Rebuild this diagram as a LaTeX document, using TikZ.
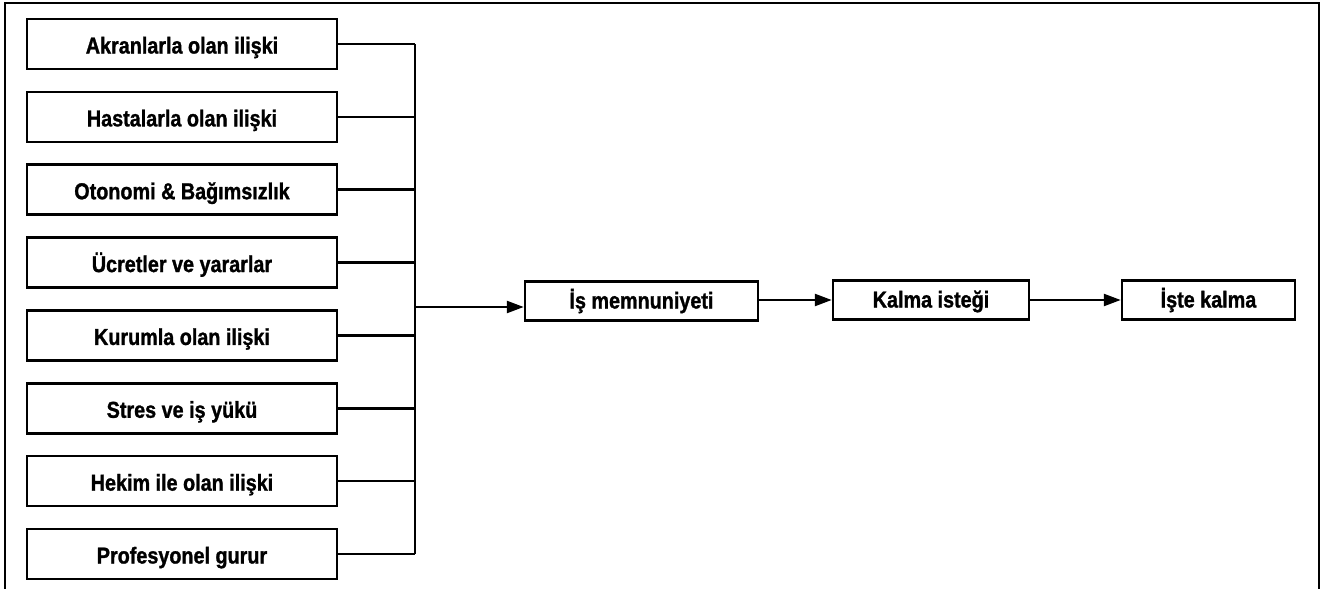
\documentclass[tikz,border=0pt]{standalone}
\usepackage{fontspec}
\setmainfont{Liberation Sans}[FakeStretch=0.86,BoldFeatures={FakeBold=1.2}]
\usetikzlibrary{arrows.meta}
\begin{document}
\begin{tikzpicture}[x=1pt,y=-1pt,
  box/.style={draw,line width=2.5pt,minimum width=310pt,minimum height=50pt,inner sep=0pt,
    text height=19pt,text depth=0pt,
    font=\fontsize{23}{26}\selectfont\bfseries},
  rbox/.style={draw,line width=2.5pt,minimum height=39pt,inner sep=0pt,
    text height=18pt,text depth=3pt,
    font=\fontsize{23}{26}\selectfont\bfseries},
  conn/.style={line width=2.5pt},
  arr/.style={line width=2.5pt,-{Triangle[length=17pt,width=12pt]}}]
\useasboundingbox (0,0) rectangle (1320,589);
\draw[line width=1.5pt] (5,589) -- (5,3) -- (1319,3) -- (1319,589);
\foreach \t [count=\i from 0] in {Akranlarla olan ilişki,Hastalarla olan ilişki,Otonomi \& Bağımsızlık,Ücretler ve yararlar,Kurumla olan ilişki,Stres ve iş yükü,Hekim ile olan ilişki,Profesyonel gurur}{
  \node[box] (b\i) at (182,{44+72.86*\i}) {\t};
}
\coordinate (bustop) at (415,44);
\coordinate (busbot) at (415,554);
\draw[conn] (bustop) -- (busbot);
\foreach \i in {0,...,7}{
  \draw[conn] (b\i.east) -- (b\i.east -| bustop);
}
\node[rbox,minimum width=233pt] (ism) at (641.5,301) {İş memnuniyeti};
\node[rbox,minimum width=196pt] (kal) at (931,300) {Kalma isteği};
\node[rbox,minimum width=173pt] (ist) at (1208.5,300) {İşte kalma};
\coordinate (j) at (415,307);
\draw[arr] (j) -- (j -| ism.west);
\draw[arr] (ism.east |- kal.west) -- (kal.west);
\draw[arr] (kal.east) -- (ist.west);
\end{tikzpicture}
\end{document}
